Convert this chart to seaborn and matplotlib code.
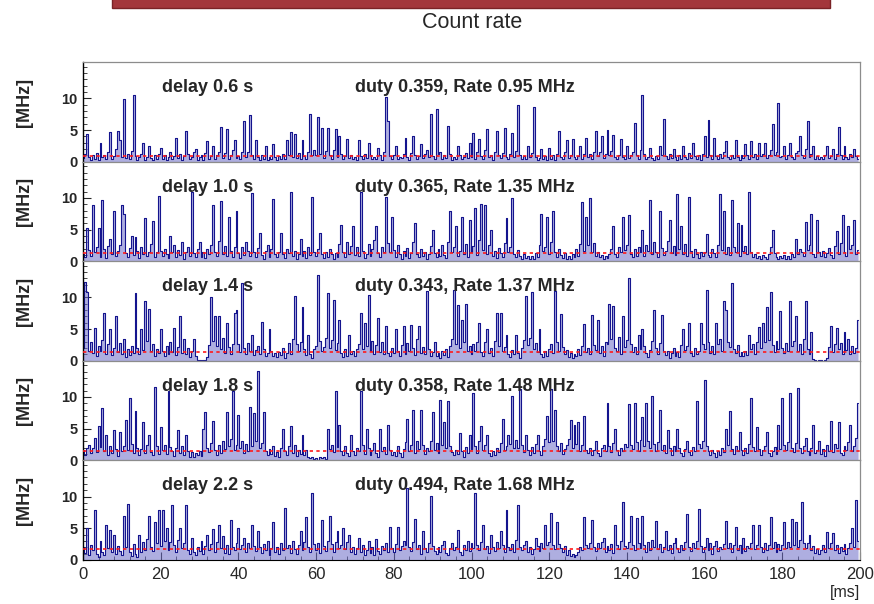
import numpy as np
import pandas as pd
import seaborn as sns
import matplotlib.pyplot as plt
from matplotlib.ticker import MultipleLocator, FixedLocator
from matplotlib.patches import Rectangle

# ---- data: count rate [MHz] in 0.5 ms bins, 0-200 ms ----
delays = ["0.6", "1.0", "1.4", "1.8", "2.2"]
duties = ["0.359", "0.365", "0.343", "0.358", "0.494"]
mean_rates = [0.95, 1.35, 1.37, 1.48, 1.68]
bin_ms = 0.5

rate_d06 = [
    0.6, 1.2, 4.3, 0.8, 0.3, 1.0, 0.5, 1.4, 0.2, 3.0, 0.7, 1.1, 0.4, 1.6, 4.7, 0.5, 0.9, 2.0, 4.8, 3.5,
    0.8, 9.9, 0.6, 1.3, 0.4, 1.7, 10.5, 0.9, 0.2, 0.7, 1.2, 3.0, 0.3, 0.8, 2.5, 0.6, 0.2, 1.0, 0.5, 1.3,
    2.2, 0.5, 1.1, 0.3, 0.8, 1.5, 0.4, 0.9, 3.8, 0.6, 1.2, 0.2, 0.9, 4.9, 1.3, 0.4, 0.7, 1.6, 2.0, 0.3,
    0.7, 1.0, 0.3, 1.4, 3.3, 0.5, 0.9, 2.5, 0.4, 1.1, 1.6, 5.5, 0.6, 1.4, 5.2, 0.5, 1.0, 1.9, 3.5, 0.6,
    0.9, 0.4, 1.5, 6.4, 0.8, 1.6, 7.4, 1.1, 0.5, 3.5, 0.7, 0.3, 1.0, 0.5, 2.5, 0.2, 0.8, 0.4, 2.8, 0.7,
    0.3, 0.9, 0.5, 1.2, 0.4, 3.5, 1.0, 4.7, 0.7, 4.3, 0.6, 1.4, 0.5, 3.5, 0.9, 0.4, 1.6, 7.6, 1.1, 1.8,
    1.0, 7.1, 1.2, 5.3, 0.6, 1.7, 5.4, 1.0, 0.5, 1.9, 5.2, 0.8, 4.0, 1.3, 0.4, 0.9, 3.6, 0.6, 1.1, 0.5,
    0.7, 0.3, 3.5, 0.9, 0.5, 1.2, 0.6, 3.0, 1.0, 0.4, 0.8, 0.5, 2.2, 1.1, 0.3, 1.5, 10.2, 6.5, 0.9, 0.5,
    1.1, 2.5, 0.4, 0.8, 0.6, 1.3, 3.7, 0.7, 0.3, 1.4, 4.0, 1.0, 0.5, 0.9, 2.8, 0.6, 1.2, 1.8, 0.8, 7.5,
    0.9, 0.5, 8.3, 1.2, 1.6, 0.4, 1.0, 0.6, 5.7, 1.3, 0.3, 0.8, 0.5, 2.5, 1.1, 0.4, 0.7, 1.4, 0.6, 3.0,
    0.8, 4.5, 0.5, 1.5, 3.6, 0.9, 0.4, 1.8, 5.1, 0.7, 1.1, 0.3, 1.6, 4.8, 1.0, 0.6, 1.4, 5.3, 0.8, 0.4,
    1.3, 4.5, 0.7, 1.7, 9.0, 1.0, 0.4, 0.9, 0.5, 2.5, 0.8, 1.4, 8.7, 0.7, 0.3, 0.6, 2.0, 0.4, 0.9, 0.3,
    2.2, 0.5, 1.0, 0.3, 1.2, 4.9, 0.7, 0.4, 1.5, 3.4, 0.6, 1.1, 3.6, 0.8, 0.4, 0.9, 2.5, 0.5, 1.3, 3.8,
    0.7, 1.2, 0.4, 1.6, 4.9, 0.9, 1.5, 4.0, 0.6, 1.3, 5.0, 1.0, 1.7, 4.2, 0.7, 0.4, 1.1, 3.6, 0.8, 0.5,
    2.5, 0.6, 1.0, 1.5, 6.1, 1.1, 0.5, 1.9, 10.6, 1.2, 0.4, 0.8, 2.2, 0.6, 0.3, 0.9, 0.5, 2.5, 1.0, 6.7,
    0.9, 0.4, 1.2, 0.6, 2.0, 0.8, 0.3, 1.1, 0.5, 2.5, 0.7, 0.4, 1.4, 0.6, 3.0, 0.9, 0.5, 1.0, 0.3, 1.3,
    4.0, 0.8, 6.6, 1.1, 0.5, 3.8, 0.9, 0.4, 1.2, 0.6, 1.5, 3.2, 0.7, 0.4, 1.0, 0.6, 3.5, 0.8, 0.3, 1.1,
    0.6, 2.8, 1.0, 0.4, 3.2, 0.8, 1.3, 0.5, 3.0, 0.9, 1.2, 3.0, 0.6, 1.1, 1.8, 6.0, 1.0, 1.5, 9.3, 0.7,
    0.9, 2.5, 0.5, 1.1, 3.0, 0.7, 0.4, 1.4, 1.7, 4.0, 1.0, 0.6, 2.0, 6.5, 0.8, 1.2, 2.5, 0.5, 0.9, 0.4,
    0.7, 0.4, 1.1, 2.5, 0.6, 0.9, 2.0, 0.4, 1.2, 5.5, 1.0, 0.5, 2.5, 0.8, 0.4, 1.3, 0.7, 2.0, 0.9, 0.5,
]

rate_d10 = [
    1.2, 0.6, 5.3, 1.8, 0.9, 8.8, 1.4, 2.2, 5.3, 0.7, 9.6, 1.9, 0.5, 2.4, 3.5, 1.1, 7.9, 0.8, 1.6, 2.6,
    8.8, 7.5, 1.3, 0.6, 2.1, 4.0, 1.0, 3.8, 1.7, 0.5, 2.3, 1.2, 6.8, 0.9, 1.5, 2.8, 6.3, 0.7, 1.4, 10.3,
    1.6, 0.8, 2.0, 1.1, 0.5, 4.0, 1.4, 2.5, 0.6, 1.8, 1.0, 3.0, 0.4, 1.5, 2.2, 0.9, 11.0, 1.3, 0.6, 1.9,
    3.0, 0.7, 1.4, 0.5, 2.0, 1.1, 2.6, 8.9, 1.5, 0.8, 3.2, 9.5, 1.2, 2.4, 0.9, 7.0, 1.6, 0.6, 2.3, 8.0,
    1.3, 0.5, 2.2, 1.0, 3.0, 1.7, 0.8, 10.8, 1.4, 0.6, 2.1, 4.5, 1.0, 0.4, 1.6, 2.5, 0.7, 1.9, 9.9, 1.2,
    0.6, 1.5, 4.5, 1.1, 0.5, 2.0, 1.3, 11.0, 0.8, 1.7, 0.4, 1.2, 3.5, 0.9, 1.6, 0.5, 2.3, 1.0, 10.2, 1.4,
    0.8, 1.9, 4.5, 1.2, 0.5, 1.4, 0.7, 2.0, 1.1, 0.4, 1.3, 0.6, 2.8, 5.7, 1.5, 0.7, 3.1, 1.2, 2.4, 5.5,
    1.0, 2.3, 0.9, 11.0, 1.6, 0.5, 1.2, 2.7, 0.8, 1.9, 3.4, 5.5, 1.3, 0.6, 2.2, 1.5, 10.2, 2.9, 1.4, 7.0,
    1.8, 0.7, 2.5, 1.1, 0.4, 1.6, 0.9, 2.1, 0.5, 1.3, 3.0, 6.0, 1.2, 0.6, 2.0, 0.8, 1.5, 0.4, 1.1, 2.4,
    5.0, 1.3, 0.6, 1.9, 0.8, 2.6, 1.0, 0.5, 3.1, 8.0, 1.4, 2.2, 5.6, 0.9, 1.7, 7.0, 1.2, 2.8, 0.7, 6.5,
    1.5, 2.4, 8.4, 1.0, 3.3, 9.1, 1.8, 8.8, 1.2, 2.5, 5.0, 0.9, 1.6, 0.5, 2.1, 1.3, 0.7, 2.9, 6.8, 1.4,
    2.2, 10.0, 1.1, 0.6, 1.8, 0.9, 0.4, 1.2, 0.5, 0.8, 0.3, 0.9, 0.4, 1.3, 0.6, 2.5, 7.5, 1.7, 2.3, 7.0,
    1.2, 3.0, 8.0, 1.5, 0.7, 2.0, 1.0, 0.5, 1.3, 0.4, 0.8, 0.3, 1.1, 0.6, 1.9, 0.9, 2.8, 9.4, 1.6, 7.0,
    2.5, 10.0, 1.4, 2.9, 0.8, 1.5, 0.6, 1.0, 0.4, 0.9, 0.5, 1.2, 2.0, 5.5, 1.1, 0.7, 2.3, 1.4, 7.0, 1.8,
    2.6, 7.3, 1.2, 0.6, 1.9, 0.9, 2.2, 1.4, 5.0, 0.8, 2.5, 1.6, 9.6, 1.1, 3.0, 1.5, 0.7, 8.0, 2.1, 1.0,
    1.7, 3.2, 6.5, 1.3, 2.4, 1.0, 10.6, 2.0, 5.5, 1.2, 2.7, 0.8, 10.2, 1.6, 0.6, 1.9, 1.1, 0.5, 1.4, 0.8,
    1.5, 4.3, 1.0, 0.6, 2.0, 1.3, 0.7, 2.6, 10.6, 1.8, 8.0, 1.2, 2.3, 1.0, 9.6, 2.2, 1.4, 6.0, 0.9, 5.8,
    1.6, 2.4, 1.1, 11.0, 1.5, 0.7, 1.2, 0.5, 0.9, 0.4, 1.0, 0.6, 0.3, 1.1, 2.2, 5.0, 1.3, 0.7, 0.4, 0.9,
    0.5, 1.0, 0.4, 0.8, 0.3, 1.2, 0.6, 3.5, 1.1, 2.0, 1.4, 0.9, 6.2, 1.8, 2.6, 7.4, 1.2, 0.7, 6.5, 1.5,
    0.8, 1.6, 0.6, 1.3, 2.1, 1.0, 0.5, 2.4, 4.8, 1.2, 2.9, 7.3, 1.4, 0.8, 5.5, 1.9, 2.6, 6.5, 1.1, 1.8,
]

rate_d14 = [
    2.0, 12.5, 10.8, 1.6, 3.0, 1.2, 5.2, 0.8, 2.4, 1.5, 3.3, 7.5, 1.1, 2.6, 5.0, 0.9, 2.0, 7.0, 1.4, 2.8,
    1.0, 3.5, 0.6, 1.8, 0.9, 2.3, 1.3, 10.7, 2.0, 1.1, 5.0, 1.7, 9.5, 3.2, 8.2, 1.5, 2.6, 0.8, 1.9, 1.2,
    5.0, 1.6, 0.7, 2.4, 1.1, 3.0, 1.4, 5.2, 0.9, 2.2, 7.0, 1.3, 3.4, 1.0, 2.1, 0.6, 1.5, 3.5, 0.8, 0.2,
    0.1, 0.0, 0.1, 0.2, 0.6, 2.5, 10.0, 3.1, 7.0, 2.4, 7.0, 1.8, 3.6, 1.2, 6.0, 2.2, 1.0, 2.7, 7.6, 8.0,
    2.6, 1.4, 12.2, 2.0, 1.1, 2.8, 1.5, 4.0, 0.9, 1.7, 2.4, 1.0, 6.2, 1.8, 0.7, 1.3, 5.0, 1.6, 0.8, 1.2,
    0.6, 1.4, 0.9, 2.0, 0.5, 1.2, 2.8, 1.0, 3.5, 10.2, 2.6, 1.5, 3.0, 8.5, 1.8, 0.9, 4.0, 1.1, 0.5, 1.9,
    2.4, 13.5, 3.1, 1.6, 2.2, 3.6, 10.7, 2.0, 3.3, 9.6, 1.7, 2.8, 6.5, 1.2, 0.6, 1.9, 0.8, 4.0, 1.0, 1.5,
    0.7, 1.8, 2.6, 7.5, 1.9, 6.0, 2.3, 10.4, 1.5, 3.2, 1.1, 2.5, 6.7, 1.4, 2.9, 1.0, 5.5, 1.3, 0.7, 2.1,
    1.2, 5.0, 1.6, 0.8, 2.5, 5.5, 1.1, 2.8, 1.5, 5.7, 2.0, 0.9, 3.4, 5.5, 1.3, 2.2, 1.0, 11.0, 1.8, 0.8,
    1.4, 3.0, 0.7, 1.2, 0.5, 1.6, 0.9, 1.9, 0.6, 2.4, 3.5, 11.2, 2.7, 8.8, 2.1, 6.5, 3.0, 9.0, 1.5, 2.3,
    1.1, 2.6, 1.5, 3.0, 6.0, 1.4, 0.8, 2.9, 5.0, 1.2, 2.0, 0.7, 3.1, 7.6, 2.4, 7.5, 1.6, 2.2, 4.0, 1.0,
    0.6, 1.7, 1.0, 4.0, 1.3, 0.5, 2.1, 3.3, 10.2, 2.5, 3.6, 10.8, 1.9, 2.8, 1.4, 5.0, 1.1, 0.6, 1.5, 0.8,
    1.9, 2.7, 1.2, 11.0, 3.0, 1.6, 7.4, 2.2, 1.0, 1.7, 0.6, 1.3, 0.5, 1.0, 0.7, 1.8, 0.9, 2.4, 5.8, 1.4,
    2.0, 1.1, 7.3, 2.5, 1.7, 6.5, 1.2, 2.3, 0.8, 3.0, 2.6, 9.0, 3.4, 8.7, 2.1, 1.5, 3.8, 1.0, 7.0, 2.2,
    3.3, 13.0, 2.7, 1.4, 2.2, 1.0, 4.0, 1.8, 5.0, 2.4, 1.2, 0.6, 1.7, 3.2, 8.0, 2.0, 1.1, 2.8, 7.3, 1.5,
    0.9, 1.6, 0.5, 1.3, 2.0, 0.8, 1.4, 0.6, 2.5, 5.0, 1.7, 2.3, 6.0, 1.2, 0.7, 2.1, 1.0, 1.6, 6.0, 2.6,
    1.8, 11.1, 2.9, 1.3, 2.4, 1.0, 6.0, 2.6, 3.4, 1.5, 9.5, 8.0, 3.0, 2.2, 12.3, 1.9, 1.2, 2.5, 0.8, 1.4,
    0.7, 1.5, 0.9, 4.0, 1.8, 2.6, 1.1, 3.0, 5.3, 2.0, 6.0, 2.9, 8.5, 3.3, 10.8, 2.5, 1.4, 3.1, 1.9, 7.8,
    2.1, 1.3, 2.8, 1.6, 9.4, 2.4, 3.2, 7.0, 1.5, 2.7, 1.0, 3.5, 9.5, 1.8, 1.1, 4.5, 0.3, 0.1, 0.0, 0.2,
    0.1, 0.0, 0.2, 0.4, 2.2, 5.5, 1.4, 2.6, 5.2, 1.9, 2.8, 1.1, 4.5, 1.7, 3.5, 1.0, 2.3, 1.2, 2.0, 6.5,
]

rate_d18 = [
    1.6, 0.8, 1.9, 2.5, 1.1, 2.0, 3.5, 1.3, 5.4, 2.1, 8.2, 1.5, 4.0, 0.9, 2.2, 1.2, 4.8, 1.8, 0.7, 4.5,
    1.4, 2.3, 6.4, 1.7, 9.9, 2.6, 1.2, 7.8, 2.0, 0.9, 1.8, 6.0, 1.1, 2.4, 4.0, 1.3, 0.8, 11.5, 2.2, 1.0,
    5.3, 1.6, 2.5, 1.0, 10.9, 2.1, 1.4, 0.7, 1.9, 4.8, 1.2, 2.3, 0.9, 4.0, 1.5, 0.6, 1.3, 0.5, 1.1, 0.8,
    1.5, 0.7, 5.0, 7.6, 2.0, 1.3, 2.8, 6.2, 1.6, 0.9, 2.4, 1.1, 3.0, 1.8, 7.6, 2.2, 3.3, 10.9, 1.7, 2.5,
    7.2, 1.9, 3.0, 1.2, 2.6, 1.5, 8.4, 2.3, 7.5, 3.1, 14.1, 2.0, 2.7, 7.6, 1.4, 0.8, 1.8, 1.0, 2.3, 0.7,
    1.3, 0.6, 2.0, 5.0, 1.4, 0.8, 2.2, 5.4, 1.1, 2.5, 0.7, 1.6, 1.0, 4.0, 0.9, 1.7, 0.6, 0.3, 0.5, 0.2,
    0.4, 0.1, 0.6, 0.3, 0.5, 0.2, 5.0, 1.8, 2.4, 1.3, 11.0, 2.1, 5.6, 1.5, 0.8, 2.2, 1.2, 0.7, 4.0, 1.4,
    0.9, 2.0, 1.5, 11.0, 2.4, 1.0, 5.0, 1.9, 0.8, 1.6, 2.7, 1.2, 0.6, 5.0, 1.4, 2.1, 1.0, 5.6, 1.7, 0.9,
    1.3, 0.7, 2.2, 1.1, 0.6, 1.8, 2.9, 6.6, 1.5, 2.4, 8.0, 1.2, 3.0, 1.8, 8.0, 2.5, 1.0, 2.0, 1.4, 3.1,
    7.7, 1.6, 2.8, 1.2, 9.6, 2.5, 6.0, 1.9, 9.3, 2.2, 1.3, 0.8, 1.7, 1.0, 4.3, 1.5, 0.6, 2.1, 1.2, 4.0,
    1.8, 10.7, 2.3, 1.1, 3.0, 5.4, 1.6, 2.5, 4.0, 1.2, 0.7, 1.5, 0.9, 2.0, 1.3, 2.8, 6.5, 1.7, 2.2, 4.0,
    2.6, 10.2, 1.9, 3.2, 2.0, 11.2, 2.4, 1.3, 4.0, 1.6, 0.9, 2.1, 1.2, 2.6, 4.0, 1.4, 0.8, 2.3, 3.4, 7.0,
    2.9, 11.2, 3.1, 8.0, 2.2, 1.4, 2.7, 1.0, 1.8, 2.5, 3.3, 6.3, 2.0, 5.5, 2.6, 6.0, 1.5, 2.4, 7.0, 1.7,
    1.1, 2.0, 0.8, 1.6, 3.0, 1.2, 0.7, 1.9, 2.4, 1.5, 9.0, 2.2, 1.3, 2.8, 5.0, 1.6, 0.9, 2.0, 1.4, 2.6,
    2.1, 8.9, 2.5, 1.8, 9.1, 2.9, 1.4, 3.2, 6.8, 2.3, 9.1, 3.0, 2.0, 10.1, 2.6, 1.5, 2.9, 7.9, 1.7, 2.4,
    1.2, 4.8, 1.9, 0.9, 2.3, 1.4, 5.0, 2.0, 1.1, 0.7, 1.8, 3.0, 1.3, 0.8, 2.1, 1.5, 9.4, 2.6, 1.9, 3.0,
    12.6, 2.2, 1.4, 0.8, 1.7, 1.1, 0.6, 1.5, 0.9, 2.0, 1.3, 5.0, 2.4, 7.8, 1.8, 1.0, 2.2, 1.4, 4.5, 1.6,
    0.8, 1.9, 1.2, 2.6, 9.8, 2.1, 1.4, 5.3, 1.8, 0.9, 1.6, 2.3, 4.5, 1.2, 0.7, 1.5, 2.1, 1.0, 5.5, 1.8,
    9.8, 2.5, 1.6, 2.9, 10.6, 2.0, 1.3, 2.7, 11.4, 1.9, 1.1, 2.2, 3.5, 1.4, 0.8, 2.0, 5.5, 1.2, 1.7, 3.0,
    1.0, 1.8, 0.7, 2.4, 1.5, 6.2, 1.3, 2.6, 1.9, 6.0, 1.2, 0.8, 2.3, 1.6, 2.9, 5.5, 1.4, 2.2, 3.6, 9.0,
]

rate_d22 = [
    2.0, 1.1, 5.0, 0.8, 2.4, 1.5, 7.8, 1.0, 0.5, 3.0, 1.3, 0.7, 5.5, 1.9, 4.7, 1.2, 4.0, 0.9, 2.2, 1.4,
    0.8, 7.0, 2.1, 8.8, 1.3, 0.6, 2.5, 1.0, 0.4, 4.0, 1.2, 2.8, 1.5, 3.3, 7.0, 2.0, 1.4, 6.0, 2.6, 7.8,
    2.2, 7.8, 3.0, 5.0, 1.6, 2.9, 8.6, 2.4, 1.2, 3.1, 5.0, 1.8, 2.6, 8.6, 1.5, 1.0, 3.5, 1.3, 0.7, 2.0,
    1.4, 3.0, 0.9, 2.2, 4.0, 1.6, 2.5, 4.8, 1.3, 2.9, 5.5, 1.8, 3.8, 1.1, 2.4, 0.9, 6.3, 2.0, 1.5, 2.7,
    5.0, 1.7, 2.3, 3.5, 1.2, 2.6, 1.9, 5.5, 2.2, 1.4, 4.5, 2.0, 1.1, 2.5, 1.6, 3.0, 0.8, 1.8, 6.0, 1.3,
    2.1, 1.0, 2.6, 1.5, 8.2, 1.8, 2.4, 1.1, 3.0, 1.7, 0.9, 2.3, 4.5, 1.6, 2.8, 6.8, 2.0, 1.3, 10.5, 2.5,
    1.5, 2.7, 1.1, 6.3, 2.2, 1.4, 3.0, 7.0, 2.5, 1.2, 2.8, 4.5, 1.9, 2.4, 5.0, 1.7, 2.9, 4.0, 1.3, 2.1,
    1.0, 1.8, 3.5, 1.2, 2.4, 0.8, 1.6, 3.0, 1.1, 2.0, 0.7, 3.3, 1.4, 0.9, 2.2, 1.5, 2.7, 1.3, 5.2, 1.9,
    1.2, 2.5, 5.2, 1.6, 2.2, 3.0, 2.4, 11.3, 2.0, 1.4, 2.8, 6.5, 1.7, 2.3, 1.0, 4.6, 1.9, 1.2, 2.6, 10.1,
    2.2, 1.4, 0.9, 2.0, 1.3, 2.4, 3.0, 1.1, 0.7, 1.8, 2.6, 1.5, 2.1, 4.7, 1.2, 0.8, 2.3, 1.6, 3.0, 1.4,
    2.6, 1.9, 10.5, 2.4, 1.5, 2.8, 5.5, 1.7, 2.2, 1.1, 4.0, 2.0, 1.4, 2.9, 1.8, 4.5, 2.3, 1.2, 7.8, 2.1,
    1.6, 2.5, 1.3, 3.2, 8.7, 2.0, 1.5, 2.4, 3.0, 1.2, 2.1, 0.9, 1.7, 3.5, 2.2, 1.4, 2.6, 1.9, 5.5, 2.3,
    2.8, 7.4, 2.3, 1.7, 6.0, 2.5, 1.9, 1.2, 2.2, 0.8, 1.5, 0.6, 1.0, 0.4, 0.8, 1.3, 2.0, 1.6, 6.7, 2.4,
    1.9, 2.7, 6.3, 2.1, 1.4, 2.6, 1.8, 2.9, 3.5, 1.3, 2.2, 1.6, 2.5, 1.1, 5.5, 2.4, 1.7, 3.0, 9.1, 2.2,
    1.8, 2.9, 7.0, 2.3, 1.5, 6.6, 2.6, 1.9, 7.0, 2.4, 1.3, 2.8, 1.6, 3.2, 2.1, 6.2, 1.7, 2.5, 1.2, 2.0,
    4.5, 1.6, 2.3, 1.1, 2.7, 3.5, 1.8, 1.2, 2.4, 1.5, 2.9, 7.2, 2.1, 1.4, 2.6, 1.9, 3.0, 8.0, 2.2, 1.3,
    2.0, 3.5, 1.5, 2.6, 1.0, 2.2, 3.0, 1.4, 2.1, 1.7, 2.5, 6.2, 1.9, 2.7, 1.2, 2.3, 5.2, 1.6, 2.4, 1.1,
    3.5, 1.4, 2.2, 1.8, 2.6, 5.5, 1.7, 2.3, 5.5, 2.0, 1.3, 2.7, 1.5, 2.4, 6.8, 1.9, 2.8, 1.2, 2.5, 1.6,
    2.3, 6.0, 1.8, 2.9, 2.1, 6.5, 2.4, 6.0, 2.0, 3.1, 9.1, 2.6, 1.9, 2.7, 4.0, 1.5, 2.2, 1.1, 1.7, 0.9,
    1.5, 2.4, 1.2, 4.4, 1.8, 2.6, 4.3, 1.6, 2.3, 1.1, 2.0, 1.4, 2.5, 1.0, 1.9, 2.7, 5.0, 2.1, 9.5, 3.0,
]

series = [rate_d06, rate_d10, rate_d14, rate_d18, rate_d22]

frames = []
for d, vals in zip(delays, series):
    frames.append(pd.DataFrame({
        "delay": d,
        "time_ms": np.arange(len(vals)) * bin_ms,
        "rate": vals,
    }))
df = pd.concat(frames, ignore_index=True)

# ---- style ----
sns.set_style("ticks")
plt.rcParams["font.family"] = ["Liberation Sans", "DejaVu Sans"]
LINE = "#14148e"
FILL = "#6c6cc8"
FRAME = "#8c8c8c"

fig = plt.figure(figsize=(8.74, 6.04), dpi=100)
axes = fig.subplots(5, 1, sharex=True, gridspec_kw={"hspace": 0})
fig.subplots_adjust(left=0.095, right=0.984, top=0.897, bottom=0.073)

for i, (ax, d, duty, rate) in enumerate(zip(axes, delays, duties, mean_rates)):
    sub = df[df["delay"] == d]
    ax.fill_between(sub["time_ms"], sub["rate"], step="mid",
                    color=FILL, alpha=0.55, linewidth=0, zorder=1)
    sns.lineplot(data=sub, x="time_ms", y="rate", ax=ax, color=LINE,
                 linewidth=0.8, estimator=None, legend=False,
                 drawstyle="steps-mid", zorder=2)
    ax.axhline(rate, color="#ff1a1a", linestyle=(0, (2.0, 2.0)),
               linewidth=1.2, zorder=5)

    ax.set_xlim(0, 200)
    ax.set_ylim(0, 15.7)
    ax.yaxis.set_major_locator(FixedLocator([0, 5, 10]))
    ax.yaxis.set_minor_locator(MultipleLocator(1))
    ax.tick_params(axis="y", which="major", direction="in", length=6, width=0.8,
                   labelsize=10.5, pad=4)
    ax.tick_params(axis="y", which="minor", direction="in", length=3, width=0.6)
    for lab in ax.get_yticklabels():
        lab.set_fontweight("bold")

    for side in ("top", "right"):
        ax.spines[side].set_color(FRAME)
        ax.spines[side].set_linewidth(0.9)
    ax.spines["left"].set_color("black")
    ax.spines["left"].set_linewidth(1.0)
    if i < 4:
        ax.spines["bottom"].set_color(FRAME)
        ax.tick_params(axis="x", which="both", bottom=False, labelbottom=False)
    else:
        ax.spines["bottom"].set_color("black")

    ax.set_xlabel("")
    ax.set_ylabel("[MHz]", fontsize=13, fontweight="bold")
    ax.yaxis.set_label_coords(-0.065, 0.6)

    ax.text(0.101, 0.70, f"delay {d} s", transform=ax.transAxes,
            fontsize=13, fontweight="bold", ha="left", va="baseline", zorder=6)
    ax.text(0.35, 0.70, f"duty {duty}, Rate {rate:.2f} MHz", transform=ax.transAxes,
            fontsize=13, fontweight="bold", ha="left", va="baseline", zorder=6)

bottom = axes[-1]
bottom.xaxis.set_major_locator(MultipleLocator(20))
bottom.xaxis.set_minor_locator(MultipleLocator(4))
bottom.tick_params(axis="x", which="major", direction="in", length=6, width=0.8,
                   pad=5, labelsize=12)
bottom.tick_params(axis="x", which="minor", direction="in", length=3, width=0.6)

fig.text(845 / 874, 1 - 592 / 604, "[ms]", fontsize=11.5, ha="center", va="center")

# header banner and title
fig.patches.append(Rectangle((112 / 874, 1 - 8 / 604), (830 - 112) / 874, 0.03,
                             transform=fig.transFigure, facecolor="#a3363b",
                             edgecolor="#7a2226", linewidth=1.0))
fig.text(472 / 874, 1 - 22 / 604, "Count rate", fontsize=15.5,
         ha="center", va="center")

fig.savefig("out.png", dpi=100)
